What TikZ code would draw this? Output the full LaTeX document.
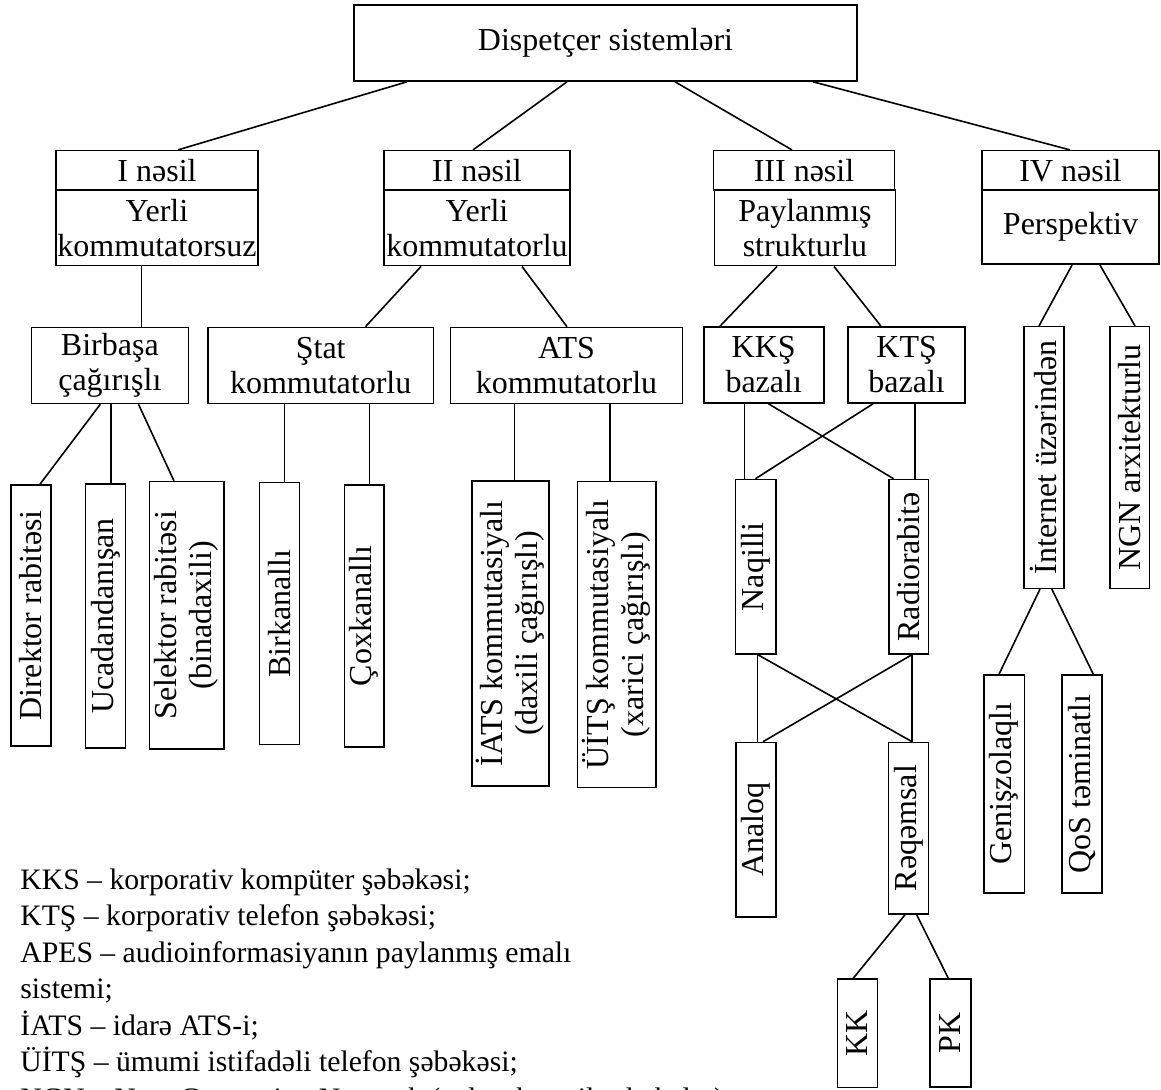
\documentclass[tikz,border=0pt]{standalone}
\usepackage{fontspec}
\setmainfont{Liberation Serif}

\begin{document}
\begin{tikzpicture}[x=0.5pt,y=-0.5pt,
  font=\fontsize{16}{17.5}\selectfont,
  box/.style={draw,line width=0.8pt,inner sep=0pt,align=center},
  vbox/.style={box,rotate=90},
  link/.style={line width=0.8pt},
  legend/.style={anchor=base west,inner sep=0pt,font=\fontsize{14.85}{18}\selectfont}]
  \useasboundingbox (0,0) rectangle (1161,1090);
  % root
  \node[box,minimum width=251.5pt,minimum height=38pt] (disp) at (605.5,43) {Dispetçer sistemləri};
  % generations
  \node[box,minimum width=101pt,minimum height=19.65pt] (nesil1) at (157,170.35) {I nəsil};
  \node[box,minimum width=101pt,minimum height=37.85pt] (tip1) at (157,227.85) {Yerli\\kommutatorsuz};
  \node[box,minimum width=93pt,minimum height=19.65pt] (nesil2) at (477,170.35) {II nəsil};
  \node[box,minimum width=93pt,minimum height=37.85pt] (tip2) at (477,227.85) {Yerli\\kommutatorlu};
  \node[box,minimum width=90.5pt,minimum height=19.65pt] (nesil3) at (804,170.35) {III nəsil};
  \node[box,minimum width=90.5pt,minimum height=37.85pt] (tip3) at (805,227.85) {Paylanmış\\strukturlu};
  \node[box,minimum width=88.5pt,minimum height=19.65pt] (nesil4) at (1070.5,170.35) {IV nəsil};
  \node[box,minimum width=88.5pt,minimum height=37.15pt] (tip4) at (1070.5,227.15) {Perspektiv};
  % second level
  \node[box,minimum width=78.45pt,minimum height=38pt] (birbasa) at (109.85,365.5) {Birbaşa\\çağırışlı};
  \node[box,minimum width=112.9pt,minimum height=38pt] (stat) at (320.7,365.5) {Ştat\\kommutatorlu};
  \node[box,minimum width=116.1pt,minimum height=38pt] (ats) at (566.5,365.5) {ATS\\kommutatorlu};
  \node[box,minimum width=60pt,minimum height=38pt] (kks) at (763.7,365) {KKŞ\\bazalı};
  \node[box,minimum width=58.45pt,minimum height=38pt] (kts) at (906.65,365) {KTŞ\\bazalı};
  % vertical boxes
  \node[vbox,minimum width=130.5pt,minimum height=20.1pt] (direktor) at (30.8,615.5) {Direktor rabitəsi};
  \node[vbox,minimum width=131.85pt,minimum height=20.1pt] (ucadan) at (105.4,615.85) {Ucadandanışan};
  \node[vbox,minimum width=133.65pt,minimum height=37.35pt] (selektor) at (186.65,615.35) {Selektor rabitəsi\\(binadaxili)};
  \node[vbox,minimum width=130.8pt,minimum height=19.95pt] (birk) at (279.35,613.5) {Birkanallı};
  \node[vbox,minimum width=130.85pt,minimum height=19.8pt] (coxk) at (364.2,615.85) {Çoxkanallı};
  \node[vbox,minimum width=152.35pt,minimum height=38.7pt] (iats) at (510.5,633.35) {İATS kommutasiyalı\\(daxili çağırışlı)};
  \node[vbox,minimum width=152.8pt,minimum height=39.05pt] (uits) at (616.65,634.5) {ÜİTŞ kommutasiyalı\\(xarici çağırışlı)};
  \node[vbox,minimum width=87.25pt,minimum height=20.2pt] (naqil) at (755.8,566.75) {Naqilli};
  \node[vbox,minimum width=87.25pt,minimum height=19.9pt] (radio) at (908.6,566.75) {Radiorabitə};
  \node[vbox,minimum width=87.1pt,minimum height=20.15pt] (analoq) at (755.85,829.6) {Analoq};
  \node[vbox,minimum width=85.85pt,minimum height=20pt] (reqem) at (908.3,828.15) {Rəqəmsal};
  \node[vbox,minimum width=54.15pt,minimum height=20pt] (kk) at (857.3,1033.15) {KK};
  \node[vbox,minimum width=54pt,minimum height=20.35pt] (pk) at (950.35,1033) {PK};
  \node[vbox,minimum width=130.8pt,minimum height=20.1pt] (inet) at (1043.9,457.5) {İnternet üzərindən};
  \node[vbox,minimum width=130.8pt,minimum height=19.75pt] (ngn) at (1129.75,457.5) {NGN arxitekturlu};
  \node[vbox,minimum width=108.85pt,minimum height=20.15pt] (genis) at (1004.15,783.85) {Genişzolaqlı};
  \node[vbox,minimum width=108.85pt,minimum height=20pt] (qos) at (1081.7,783.85) {QoS təminatlı};
  % links
  \draw[link] (disp.south -| 407,0) -- (nesil1.north -| 178,0);
  \draw[link] (disp.south -| 567,0) -- (nesil2.north -| 473,0);
  \draw[link] (disp.south -| 675,0) -- (nesil3.north -| 792,0);
  \draw[link] (disp.south -| 813,0) -- (nesil4.north -| 1070,0);
  \draw[link] (tip1.south -| 141.6,0) -- (birbasa.north -| 141.6,0);
  \draw[link] (tip2.south -| 421,0) -- (stat.north -| 365.5,0);
  \draw[link] (tip2.south -| 522,0) -- (ats.north -| 567,0);
  \draw[link] (tip3.south -| 777,0) -- (kks.north -| 720,0);
  \draw[link] (tip3.south -| 834,0) -- (kts.north -| 881,0);
  \draw[link] (tip4.south -| 1072,0) -- (inet.east -| 1039,0);
  \draw[link] (tip4.south -| 1100,0) -- (ngn.east -| 1135,0);
  \draw[link] (birbasa.south -| 100.3,0) -- (direktor.east -| 40,0);
  \draw[link] (birbasa.south -| 111,0) -- (ucadan.east -| 111,0);
  \draw[link] (birbasa.south -| 138.5,0) -- (selektor.east -| 174,0);
  \draw[link] (stat.south -| 284.3,0) -- (birk.east -| 284.3,0);
  \draw[link] (stat.south -| 369.3,0) -- (coxk.east -| 369.3,0);
  \draw[link] (ats.south -| 514.3,0) -- (iats.east -| 514.3,0);
  \draw[link] (ats.south -| 610,0) -- (uits.east -| 610,0);
  \draw[link] (kks.south -| 744.5,0) -- (naqil.east -| 744.5,0);
  \draw[link] (kks.south -| 768.5,0) -- (radio.east -| 893.5,0);
  \draw[link] (kts.south -| 873,0) -- (naqil.east -| 755.5,0);
  \draw[link] (kts.south -| 915,0) -- (radio.east -| 915,0);
  \draw[link] (naqil.west -| 757.3,0) -- (analoq.east -| 757.3,0);
  \draw[link] (naqil.west -| 758,0) -- (reqem.east -| 911.7,0);
  \draw[link] (radio.west -| 911.7,0) -- (analoq.east -| 763,0);
  \draw[link] (radio.west -| 912,0) -- (reqem.east -| 912,0);
  \draw[link] (reqem.west -| 905,0) -- (kk.east -| 853.3,0);
  \draw[link] (reqem.west -| 916.7,0) -- (pk.east -| 948.3,0);
  \draw[link] (inet.west -| 1040,0) -- (genis.east -| 999,0);
  \draw[link] (inet.west -| 1051.8,0) -- (qos.east -| 1093.3,0);
  % legend
  \foreach \txt [count=\i] in {{KKS – korporativ kompüter şəbəkəsi;},
      {KTŞ – korporativ telefon şəbəkəsi;},
      {APES – audioinformasiyanın paylanmış emalı},
      {sistemi;},
      {İATS – idarə ATS-i;},
      {ÜİTŞ – ümumi istifadəli telefon şəbəkəsi;},
      {NGN – Next Generation Network (gələcək nəsil şəbəkələr)}}
    \node[legend] (leg\i) at (20,{889+36.5*(\i-1)}) {\txt};
\end{tikzpicture}
\end{document}
